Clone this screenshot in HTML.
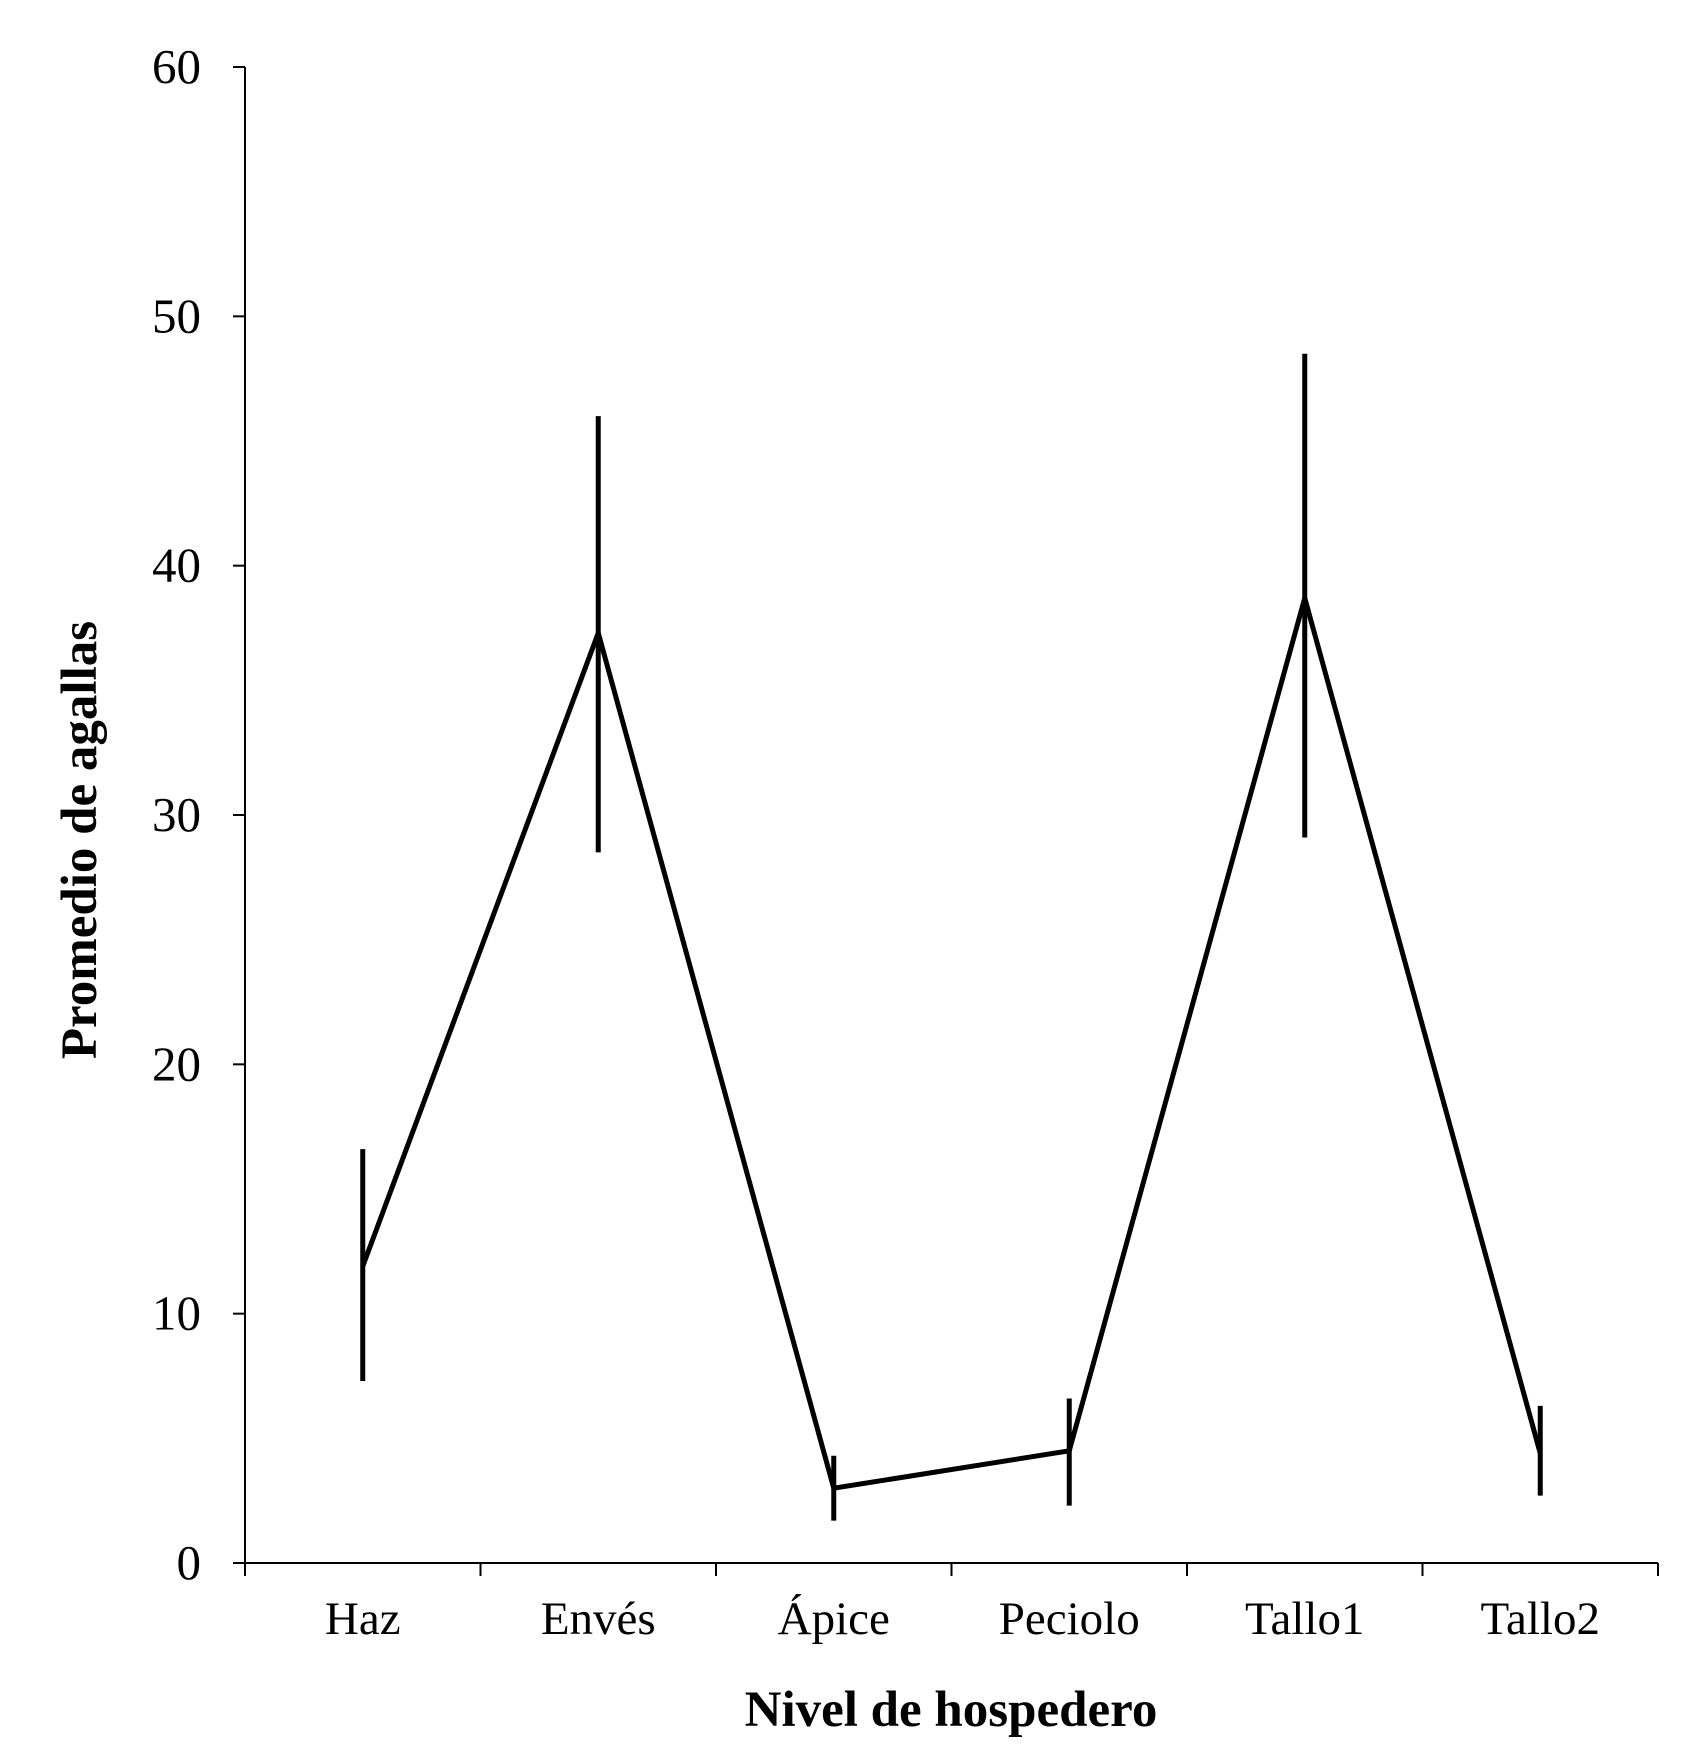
<!DOCTYPE html>
<html><head><meta charset="utf-8"><style>body{margin:0;background:#fff}svg{display:block}text{font-family:"Liberation Serif",serif;fill:#000}</style></head>
<body>
<svg id="chart" width="1692" height="1764" viewBox="0 0 1692 1764" xmlns="http://www.w3.org/2000/svg">
<g id="axes"></g><g id="marks"></g>
<text x="951" y="1726" font-size="51" font-weight="bold" text-anchor="middle">Nivel de hospedero</text>
<text x="0" y="0" font-size="51" font-weight="bold" text-anchor="middle" transform="translate(96,840) rotate(-90)">Promedio de agallas</text>
</svg>
<script>
const categories = ["Haz","Envés","Ápice","Peciolo","Tallo1","Tallo2"];
const means = [11.9,37.3,3.0,4.5,38.7,4.4];
const errTop = [16.6,46.0,4.3,6.6,48.5,6.3];
const errBottom = [7.3,28.5,1.7,2.3,29.1,2.7];
const yTicks = [0,10,20,30,40,50,60];
const NS="http://www.w3.org/2000/svg";
const x0=245,x1=1658,yTop=67,yBot=1563;
const catW=(x1-x0)/categories.length;
function xPos(i){return x0+catW*(i+0.5);}
function yPos(v){return yBot-(v/60)*(yBot-yTop);}
function mk(t,a,p){const e=document.createElementNS(NS,t);for(const k in a)e.setAttribute(k,a[k]);p.appendChild(e);return e;}
const axes=document.getElementById('axes'),marks=document.getElementById('marks');
let e=mk('line',{x1:x0,y1:yTop,x2:x0,y2:yBot,stroke:'#000','stroke-width':2},axes);


e=mk('line',{x1:x0,y1:yBot,x2:x1,y2:yBot,stroke:'#000','stroke-width':2},axes);


yTicks.forEach(v=>{const y=yPos(v);
 let t=mk('line',{x1:x0-12,y1:y,x2:x0,y2:y,stroke:'#000','stroke-width':2},axes);
 
 
 let l=mk('text',{x:x0-44,y:y+16,'font-size':49,'text-anchor':'end'},axes);l.textContent=v;
 
 
});
for(let i=0;i<=categories.length;i++){const x=x0+catW*i;
 let t=mk('line',{x1:x,y1:yBot,x2:x,y2:yBot+13,stroke:'#000','stroke-width':2},axes);
 
 
}
categories.forEach((c,i)=>{let l=mk('text',{x:xPos(i),y:1634,'font-size':47,'text-anchor':'middle'},axes);l.textContent=c;
 
 
});
categories.forEach((c,i)=>{let b=mk('line',{x1:xPos(i),y1:yPos(errTop[i]),x2:xPos(i),y2:yPos(errBottom[i]),stroke:'#000','stroke-width':5},marks);
 
 
});
let p=mk('polyline',{points:means.map((v,i)=>xPos(i)+','+yPos(v)).join(' '),fill:'none',stroke:'#000','stroke-width':5,'stroke-linejoin':'miter'},marks);


</script>
</body></html>
